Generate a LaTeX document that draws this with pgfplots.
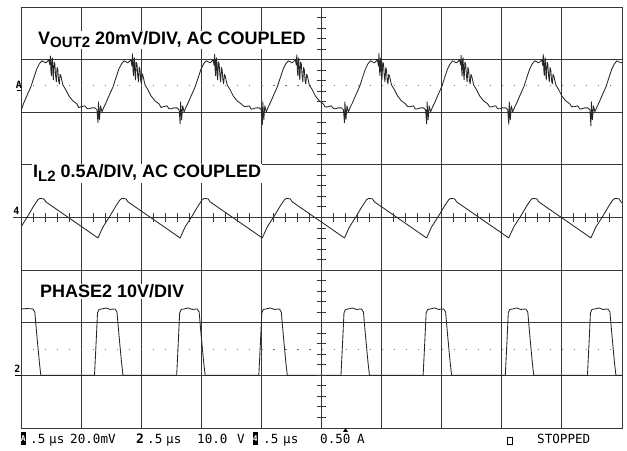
\documentclass[border=0pt]{standalone}
\usepackage{fontspec}
\setmainfont{Liberation Sans}
\newfontfamily\scopefont{DejaVu Sans Mono}
\usepackage{pgfplots}
\pgfplotsset{compat=1.18}

\definecolor{gridc}{gray}{0.22}
\definecolor{trace}{gray}{0.15}

\begin{document}
\begin{tikzpicture}
\begin{axis}[
    at={(21bp,23bp)}, anchor=south west,
    scale only axis, width=601bp, height=421bp,
    xmin=0, xmax=10, ymin=0, ymax=8,
    xtick={1,...,9}, ytick={1,...,7},
    xticklabels={}, yticklabels={},
    major tick length=0pt,
    grid=major,
    grid style={gridc, line width=0.9bp},
    axis line style={gridc, line width=0.9bp},
    trace/.style={draw=trace, line width=0.85bp, mark=none, line join=round},
]
% reference dots
\draw[black!55, line width=1.1bp, dash pattern=on 1.1bp off 10.92bp] (axis cs:0.2,6.5) -- (axis cs:10,6.5);
\draw[black!55, line width=1.1bp, dash pattern=on 1.1bp off 10.92bp] (axis cs:0.2,1.5) -- (axis cs:10,1.5);

% VOUT2, 20 mV/div, AC coupled (units: divisions)
\addplot[trace] coordinates {
(0,6.03) (0.047,6.179) (0.097,6.312) (0.164,6.483) (0.213,6.654) (0.263,6.825) (0.305,6.920) (0.347,6.977) (0.413,6.939) (0.463,6.996) (0.480,6.90) (0.488,7.070) (0.497,6.80) (0.505,6.693) (0.513,7.00) (0.521,7.034) (0.530,6.75) (0.538,6.616) (0.550,6.95) (0.563,6.920) (0.575,6.70) (0.588,6.578) (0.600,6.85) (0.613,6.806) (0.625,6.60) (0.638,6.540) (0.650,6.72) (0.663,6.693) (0.696,6.521) (0.746,6.426) (0.796,6.312) (0.862,6.217) (0.929,6.160) (0.960,6.09) (0.995,6.103) (1.062,6.122) (1.100,6.07) (1.129,6.065) (1.178,6.084)
(1.231,6.084) (1.264,6.046) (1.281,5.800) (1.289,6.198) (1.306,5.856) (1.323,6.122) (1.347,6.008) (1.381,6.103) (1.414,6.179) (1.464,6.312) (1.531,6.483) (1.580,6.654) (1.630,6.825) (1.672,6.920) (1.714,6.977) (1.780,6.939) (1.830,6.996) (1.846,6.88) (1.855,7.110) (1.864,6.80) (1.872,6.693) (1.880,7.00) (1.888,7.034) (1.897,6.74) (1.905,6.616) (1.917,6.95) (1.930,6.920) (1.942,6.69) (1.955,6.578) (1.967,6.86) (1.980,6.806) (1.992,6.60) (2.005,6.540) (2.017,6.73) (2.030,6.693) (2.063,6.521) (2.113,6.426) (2.163,6.312) (2.229,6.217) (2.296,6.160) (2.330,6.09) (2.362,6.103) (2.429,6.122) (2.460,6.07) (2.496,6.065) (2.545,6.084)
(2.598,6.084) (2.631,6.046) (2.648,5.780) (2.656,6.198) (2.673,5.856) (2.690,6.122) (2.714,6.008) (2.748,6.103) (2.781,6.179) (2.831,6.312) (2.898,6.483) (2.947,6.654) (2.997,6.825) (3.039,6.920) (3.081,6.977) (3.147,6.939) (3.197,6.996) (3.213,6.89) (3.222,7.100) (3.231,6.79) (3.239,6.693) (3.247,7.01) (3.255,7.034) (3.264,6.73) (3.272,6.616) (3.285,6.96) (3.297,6.920) (3.310,6.70) (3.322,6.578) (3.335,6.85) (3.347,6.806) (3.360,6.61) (3.372,6.540) (3.385,6.72) (3.397,6.693) (3.430,6.521) (3.480,6.426) (3.530,6.312) (3.596,6.217) (3.663,6.160) (3.700,6.12) (3.729,6.103) (3.796,6.122) (3.830,6.06) (3.863,6.065) (3.912,6.084)
(3.965,6.084) (3.998,6.046) (4.015,5.760) (4.023,6.198) (4.040,5.856) (4.057,6.122) (4.081,6.008) (4.115,6.103) (4.148,6.179) (4.198,6.312) (4.265,6.483) (4.314,6.654) (4.364,6.825) (4.406,6.920) (4.448,6.977) (4.514,6.939) (4.564,6.996) (4.580,6.90) (4.589,7.090) (4.598,6.80) (4.606,6.693) (4.614,7.00) (4.622,7.034) (4.631,6.74) (4.639,6.616) (4.652,6.95) (4.664,6.920) (4.677,6.70) (4.689,6.578) (4.702,6.85) (4.714,6.806) (4.727,6.60) (4.739,6.540) (4.752,6.72) (4.764,6.693) (4.797,6.521) (4.847,6.426) (4.897,6.312) (4.963,6.217) (5.030,6.160) (5.060,6.10) (5.096,6.103) (5.163,6.122) (5.200,6.07) (5.230,6.065) (5.279,6.084)
(5.332,6.084) (5.365,6.046) (5.382,5.800) (5.390,6.198) (5.407,5.856) (5.424,6.122) (5.448,6.008) (5.482,6.103) (5.515,6.179) (5.565,6.312) (5.632,6.483) (5.681,6.654) (5.731,6.825) (5.773,6.920) (5.815,6.977) (5.881,6.939) (5.931,6.996) (5.947,6.88) (5.956,7.120) (5.965,6.80) (5.973,6.693) (5.981,7.00) (5.989,7.034) (5.998,6.74) (6.006,6.616) (6.019,6.95) (6.031,6.920) (6.044,6.70) (6.056,6.578) (6.069,6.85) (6.081,6.806) (6.094,6.60) (6.106,6.540) (6.119,6.72) (6.131,6.693) (6.164,6.521) (6.214,6.426) (6.264,6.312) (6.330,6.217) (6.397,6.160) (6.430,6.11) (6.463,6.103) (6.530,6.122) (6.560,6.06) (6.597,6.065) (6.646,6.084)
(6.699,6.084) (6.732,6.046) (6.749,5.780) (6.757,6.198) (6.774,5.856) (6.791,6.122) (6.815,6.008) (6.849,6.103) (6.882,6.179) (6.932,6.312) (6.999,6.483) (7.048,6.654) (7.098,6.825) (7.140,6.920) (7.182,6.977) (7.248,6.939) (7.298,6.996) (7.314,6.90) (7.323,7.080) (7.332,6.80) (7.340,6.693) (7.348,7.00) (7.356,7.034) (7.365,6.74) (7.373,6.616) (7.386,6.95) (7.398,6.920) (7.411,6.70) (7.423,6.578) (7.436,6.85) (7.448,6.806) (7.461,6.60) (7.473,6.540) (7.486,6.72) (7.498,6.693) (7.531,6.521) (7.581,6.426) (7.631,6.312) (7.697,6.217) (7.764,6.160) (7.800,6.10) (7.830,6.103) (7.897,6.122) (7.930,6.07) (7.964,6.065) (8.013,6.084)
(8.066,6.084) (8.099,6.046) (8.116,5.770) (8.124,6.198) (8.141,5.856) (8.158,6.122) (8.182,6.008) (8.216,6.103) (8.249,6.179) (8.299,6.312) (8.366,6.483) (8.415,6.654) (8.465,6.825) (8.507,6.920) (8.549,6.977) (8.615,6.939) (8.665,6.996) (8.681,6.89) (8.690,7.100) (8.699,6.80) (8.707,6.693) (8.715,7.00) (8.723,7.034) (8.732,6.74) (8.740,6.616) (8.753,6.95) (8.765,6.920) (8.778,6.70) (8.790,6.578) (8.803,6.85) (8.815,6.806) (8.828,6.60) (8.840,6.540) (8.853,6.72) (8.865,6.693) (8.898,6.521) (8.948,6.426) (8.998,6.312) (9.064,6.217) (9.131,6.160) (9.160,6.11) (9.197,6.103) (9.264,6.122) (9.300,6.06) (9.331,6.065) (9.380,6.084)
(9.433,6.084) (9.466,6.046) (9.483,5.740) (9.491,6.198) (9.508,5.856) (9.525,6.122) (9.549,6.008) (9.583,6.103) (9.616,6.179) (9.666,6.312) (9.733,6.483) (9.782,6.654) (9.832,6.825) (9.874,6.920) (9.916,6.977) (9.982,6.939) (10,6.95)
};

% IL2, 0.5 A/div, AC coupled
\addplot[trace] coordinates {
(0,3.82) (0.114,4.030) (0.213,4.221) (0.280,4.335) (0.313,4.363) (0.380,4.354) (0.413,4.297) (0.613,4.139) (0.779,4.008) (0.946,3.876) (1.112,3.745) (1.228,3.652)
(1.281,3.612) (1.364,3.821) (1.481,4.030) (1.580,4.221) (1.647,4.335) (1.680,4.363) (1.747,4.354) (1.780,4.297) (1.980,4.139) (2.146,4.008) (2.313,3.876) (2.479,3.745) (2.595,3.652)
(2.648,3.612) (2.731,3.821) (2.848,4.030) (2.947,4.221) (3.014,4.335) (3.047,4.363) (3.114,4.354) (3.147,4.297) (3.347,4.139) (3.513,4.008) (3.680,3.876) (3.846,3.745) (3.962,3.652)
(4.015,3.612) (4.098,3.821) (4.215,4.030) (4.314,4.221) (4.381,4.335) (4.414,4.363) (4.481,4.354) (4.514,4.297) (4.714,4.139) (4.880,4.008) (5.047,3.876) (5.213,3.745) (5.329,3.652)
(5.382,3.612) (5.465,3.821) (5.582,4.030) (5.681,4.221) (5.748,4.335) (5.781,4.363) (5.848,4.354) (5.881,4.297) (6.081,4.139) (6.247,4.008) (6.414,3.876) (6.580,3.745) (6.696,3.652)
(6.749,3.612) (6.832,3.821) (6.949,4.030) (7.048,4.221) (7.115,4.335) (7.148,4.363) (7.215,4.354) (7.248,4.297) (7.448,4.139) (7.614,4.008) (7.781,3.876) (7.947,3.745) (8.063,3.652)
(8.116,3.612) (8.199,3.821) (8.316,4.030) (8.415,4.221) (8.482,4.335) (8.515,4.363) (8.582,4.354) (8.615,4.297) (8.815,4.139) (8.981,4.008) (9.148,3.876) (9.314,3.745) (9.430,3.652)
(9.483,3.612) (9.566,3.821) (9.683,4.030) (9.782,4.221) (9.849,4.335) (9.882,4.363) (9.949,4.354) (9.982,4.297) (10,4.28)
};

% PHASE2, 10 V/div
\addplot[trace] coordinates {
(0,2.262) (0.100,2.270) (0.197,2.262) (0.230,2.205) (0.263,1.768) (0.305,1.255) (0.330,1.0)
(1.223,1.0) (1.248,1.578) (1.273,2.186) (1.298,2.253) (1.347,2.262) (1.414,2.281) (1.481,2.253) (1.564,2.262) (1.597,2.205) (1.630,1.768) (1.672,1.255) (1.697,1.0)
(2.590,1.0) (2.615,1.578) (2.640,2.186) (2.665,2.253) (2.714,2.262) (2.781,2.281) (2.848,2.253) (2.931,2.262) (2.964,2.205) (2.997,1.768) (3.039,1.255) (3.064,1.0)
(3.957,1.0) (3.982,1.578) (4.007,2.186) (4.032,2.253) (4.081,2.262) (4.148,2.281) (4.215,2.253) (4.298,2.262) (4.331,2.205) (4.364,1.768) (4.406,1.255) (4.431,1.0)
(5.324,1.0) (5.349,1.578) (5.374,2.186) (5.399,2.253) (5.448,2.262) (5.515,2.281) (5.582,2.253) (5.665,2.262) (5.698,2.205) (5.731,1.768) (5.773,1.255) (5.798,1.0)
(6.691,1.0) (6.716,1.578) (6.741,2.186) (6.766,2.253) (6.815,2.262) (6.882,2.281) (6.949,2.253) (7.032,2.262) (7.065,2.205) (7.098,1.768) (7.140,1.255) (7.165,1.0)
(8.058,1.0) (8.083,1.578) (8.108,2.186) (8.133,2.253) (8.182,2.262) (8.249,2.281) (8.316,2.253) (8.399,2.262) (8.432,2.205) (8.465,1.768) (8.507,1.255) (8.532,1.0)
(9.425,1.0) (9.450,1.578) (9.475,2.186) (9.500,2.253) (9.549,2.262) (9.616,2.281) (9.683,2.253) (9.766,2.262) (9.799,2.205) (9.832,1.768) (9.874,1.255) (9.899,1.0) (10,1.0)
};
\end{axis}

% centre graticule ticks
\foreach \i in {1,...,49}{
  \pgfmathsetmacro\tx{21+\i*12.02}
  \draw[gridc, line width=1bp] (\tx bp,229bp) -- (\tx bp,238bp);
}
\foreach \i in {1,...,39}{
  \pgfmathsetmacro\ty{23+\i*10.525}
  \draw[gridc, line width=1bp] (317bp,\ty bp) -- (326bp,\ty bp);
}

% channel titles
\node[fill=white, inner sep=1bp, anchor=base west, font=\bfseries\fontsize{18bp}{20bp}\selectfont]
  at (37bp,406bp) {V\raisebox{-3bp}{\fontsize{15bp}{15bp}\selectfont OUT2} 20mV/DIV, AC COUPLED};
\node[fill=white, inner sep=1bp, anchor=base west, font=\bfseries\fontsize{18bp}{20bp}\selectfont]
  at (32bp,273bp) {I\raisebox{-4bp}{\fontsize{15bp}{15bp}\selectfont L2} 0.5A/DIV, AC COUPLED};
\node[fill=white, inner sep=1bp, anchor=base west, font=\bfseries\fontsize{18bp}{20bp}\selectfont]
  at (39bp,153bp) {PHASE2 10V/DIV};

% channel ground markers
\node[anchor=base, inner sep=0, font=\scopefont\bfseries\fontsize{10bp}{10bp}\selectfont] at (19bp,362.5bp) {A};
\draw[black, line width=0.9bp] (16.5bp,361bp) -- (21bp,361bp);
\node[anchor=base, inner sep=0, font=\scopefont\bfseries\fontsize{10bp}{10bp}\selectfont] at (16.5bp,236bp) {4};
\draw[gridc, line width=0.9bp] (13bp,233.5bp) -- (21bp,233.5bp);
\node[anchor=base, inner sep=0, font=\scopefont\bfseries\fontsize{10bp}{10bp}\selectfont] at (17.5bp,78bp) {2};
\draw[black, line width=0.9bp] (15bp,75.6bp) -- (21bp,75.6bp);

% trigger position
\fill (343bp,19bp) -- (348bp,19bp) -- (345.5bp,23bp) -- cycle;

% status line
\begin{scope}[every node/.style={anchor=base west, inner sep=0, font=\scopefont\fontsize{12.6bp}{13bp}\selectfont}]
\fill (20.5bp,6bp) rectangle (26bp,19bp);
\node[text=white, anchor=center, font=\scopefont\bfseries\fontsize{8bp}{8bp}\selectfont] at (23.25bp,12.5bp) {A};
\node at (30bp,7.5bp) {.5};
\node at (49bp,7.5bp) {µs};
\node at (70bp,7.5bp) {20.0mV};
\node[font=\scopefont\bfseries\fontsize{13bp}{13bp}\selectfont] at (136bp,7.5bp) {2};
\node at (147bp,7.5bp) {.5};
\node at (166bp,7.5bp) {µs};
\node at (197bp,7.5bp) {10.0};
\node at (237bp,7.5bp) {V};
\fill (252.5bp,6bp) rectangle (258bp,19bp);
\node[text=white, anchor=center, font=\scopefont\bfseries\fontsize{8bp}{8bp}\selectfont] at (255.25bp,12.5bp) {4};
\node at (263bp,7.5bp) {.5};
\node at (283bp,7.5bp) {µs};
\node at (320bp,7.5bp) {0.50};
\node at (357bp,7.5bp) {A};
\draw[line width=0.8bp] (507.5bp,6.5bp) rectangle (512.5bp,14bp);
\node at (537bp,7.5bp) {STOPPED};
\end{scope}

\path[use as bounding box] (0,0) rectangle (627bp,451bp);
\end{tikzpicture}
\end{document}
